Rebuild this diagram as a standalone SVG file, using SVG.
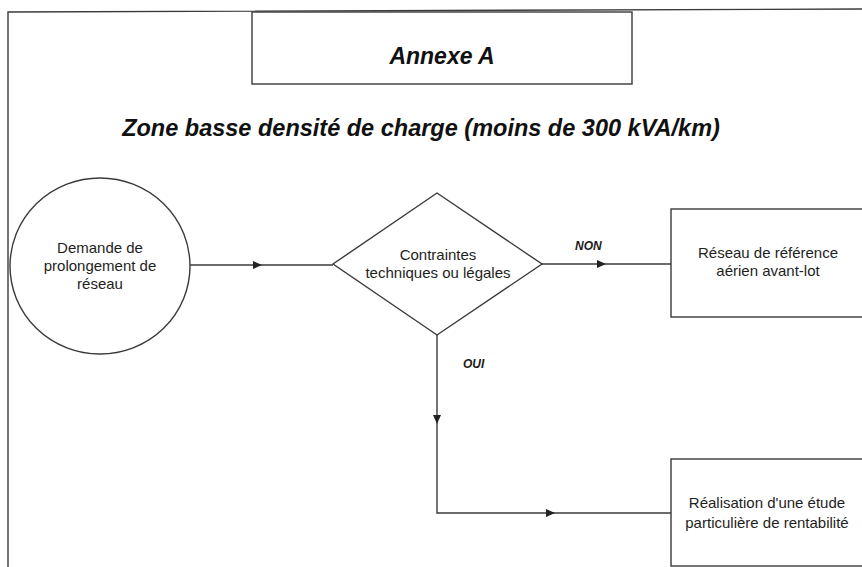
<svg xmlns="http://www.w3.org/2000/svg" width="862" height="567" viewBox="0 0 862 567">
  <defs>
    <marker id="arrow" markerUnits="userSpaceOnUse" markerWidth="9" markerHeight="8" refX="9" refY="4" orient="auto">
      <path d="M0,0 L9,4 L0,8 z" fill="#222"/>
    </marker>
    <style>
      .ln { fill: none; stroke: #3a3a3a; stroke-width: 1.4; }
      .shape { fill: #fff; stroke: #3a3a3a; stroke-width: 1.4; }
      .body { font-family: "Liberation Sans", Arial, sans-serif; font-size: 15px; fill: #1e1e1e; text-anchor: middle; }
      .head { font-family: "Liberation Sans", Arial, sans-serif; font-weight: bold; font-style: italic; fill: #111; text-anchor: middle; }
      .lab { font-family: "Liberation Sans", Arial, sans-serif; font-weight: bold; font-style: italic; font-size: 12px; fill: #1a1a1a; }
    </style>
  </defs>
  <rect width="862" height="567" fill="#fff"/>

  <!-- page frame (top and left edges) -->
  <path class="ln" d="M8 567 V12 L862 9"/>

  <!-- heading -->
  <g id="title">
    <rect class="shape" x="252" y="12" width="380" height="72"/>
    <text class="head" x="442" y="64" font-size="23">Annexe A</text>
  </g>
  <text class="head" x="421" y="136" font-size="23.5">Zone basse densité de charge (moins de 300 kVA/km)</text>

  <!-- connectors -->
  <g id="connectors">
    <path class="ln" d="M190 265 H262" marker-end="url(#arrow)"/>
    <path class="ln" d="M262 265 H333"/>
    <path class="ln" d="M542 264 H606" marker-end="url(#arrow)"/>
    <path class="ln" d="M606 264 H671"/>
    <path class="ln" d="M437 335 V424" marker-end="url(#arrow)"/>
    <path class="ln" d="M437 424 V513 H555" marker-end="url(#arrow)"/>
    <path class="ln" d="M555 513 H671"/>
    <text class="lab" x="575" y="250">NON</text>
    <text class="lab" x="463" y="368">OUI</text>
  </g>

  <g id="start">
    <ellipse class="shape" cx="100" cy="266" rx="90" ry="88"/>
    <text class="body" x="100" y="253">Demande de</text>
    <text class="body" x="100" y="271">prolongement de</text>
    <text class="body" x="100" y="289">réseau</text>
  </g>

  <g id="decision">
    <polygon class="shape" points="437,193 542,264 437,335 333,264"/>
    <text class="body" x="438" y="260">Contraintes</text>
    <text class="body" x="438" y="278">techniques ou légales</text>
  </g>

  <g id="reference">
    <rect class="shape" x="671" y="209" width="200" height="108"/>
    <text class="body" x="768" y="258">Réseau de référence</text>
    <text class="body" x="768" y="276">aérien avant-lot</text>
  </g>

  <g id="study">
    <rect class="shape" x="671" y="459" width="200" height="107"/>
    <text class="body" x="767" y="508">Réalisation d'une étude</text>
    <text class="body" x="767" y="528">particulière de rentabilité</text>
  </g>
</svg>
